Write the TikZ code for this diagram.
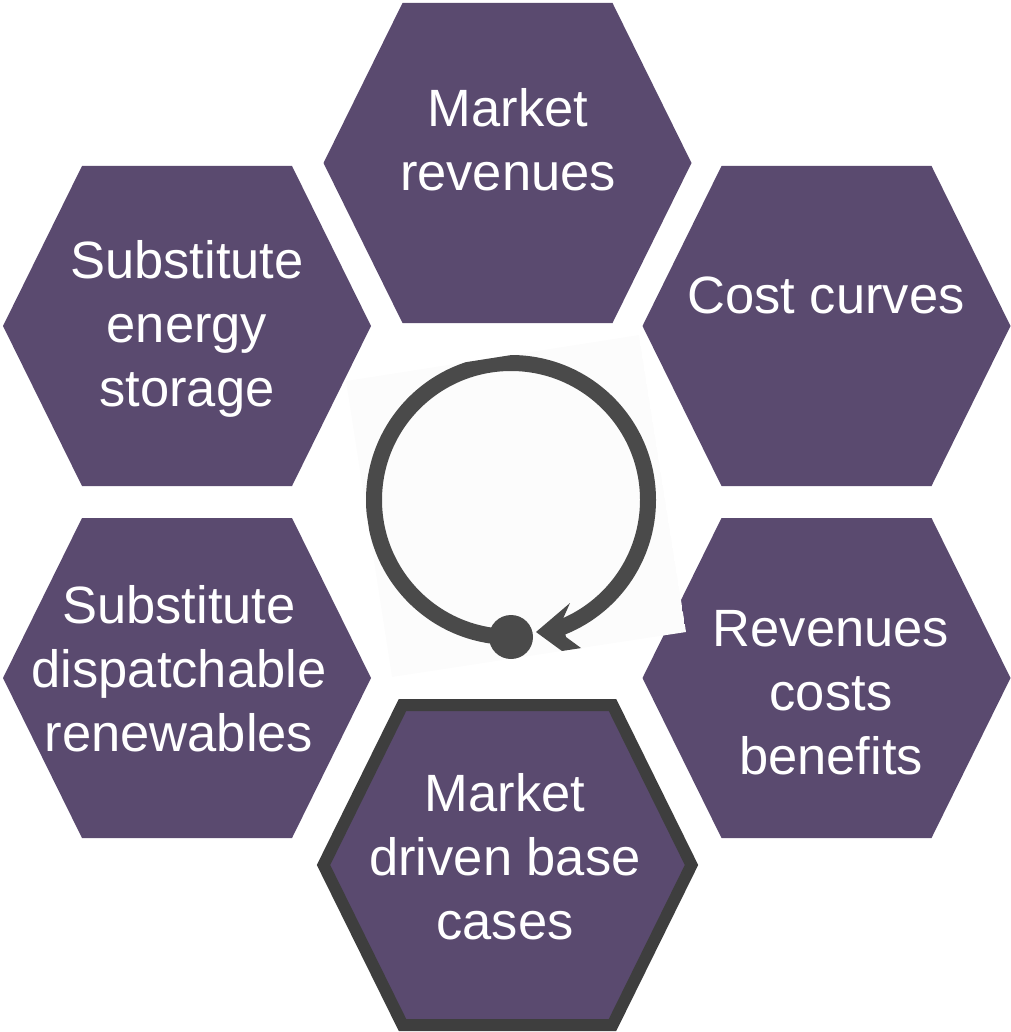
\documentclass[tikz,border=0pt]{standalone}
\usepackage{fontspec}
\setmainfont{Liberation Sans}
\usetikzlibrary{calc}
\definecolor{hexpurple}{RGB}{90,74,111}
\definecolor{hexborder}{RGB}{62,62,62}
\definecolor{icongray}{RGB}{74,74,74}
\definecolor{iconbg}{RGB}{252,252,252}
\tikzset{
  hexfill/.style={fill=hexpurple},
  hexframe/.style={fill=hexpurple, draw=hexborder, line width=12pt},
  hexlabel/.style={text=white, align=center, anchor=north, inner sep=0pt,
    font=\fontsize{52.5}{64}\selectfont, execute at begin node={\rule{0pt}{40pt}}},
  loopline/.style={draw=icongray, line width=16pt},
  loophead/.style={fill=icongray},
}
\newcommand\hexagonat[2][hexfill]{\path[#1] (#2) ++(-184,0) -- ++(79,-160) -- ++(210,0) -- ++(79,160) -- ++(-79,160) -- ++(-210,0) -- cycle;}
\begin{document}
\begin{tikzpicture}[x=1pt,y=-1pt]
\useasboundingbox (0,0) rectangle (1010,1032);
% hexagons
\hexagonat{507.5,163}
\hexagonat{187,326}
\hexagonat{826.5,326}
\hexagonat{187,678}
\hexagonat{826.5,678}
\hexagonat[hexframe]{507.5,865}
% labels
\node[hexlabel] (top) at (508,88) {Market\\revenues};
\node[hexlabel] (upleft) at (187,240) {Substitute\\energy\\storage};
\node[hexlabel] (upright) at (826,273) {Cost curves};
\node[hexlabel] (lowleft) at (179,585) {Substitute\\dispatchable\\renewables};
\node[hexlabel] (lowright) at (831,610) {Revenues\\costs\\benefits};
\node[hexlabel] (bottom) at (505,773) {Market\\driven base\\cases};
% central loop icon
\coordinate (loopc) at (511,500);
\begin{scope}
  \clip (346,381) -- (639,335) -- (686,632) -- (392,677) -- cycle;
  \fill[iconbg] (346,381) -- (639,335) -- (686,632) -- (392,677) -- cycle;
  \draw[loopline] ($(loopc)+(90:137)$) arc[start angle=90, end angle=430, radius=137];
  \fill[loophead] (536,632) -- (570,603) -- (562,621) -- (566,637) -- (600,662) -- (577,662) -- cycle;
\end{scope}
\node[circle, fill=icongray, minimum size=44pt, inner sep=0pt] (loopdot) at ($(loopc)+(90:137)$) {};
\end{tikzpicture}
\end{document}
